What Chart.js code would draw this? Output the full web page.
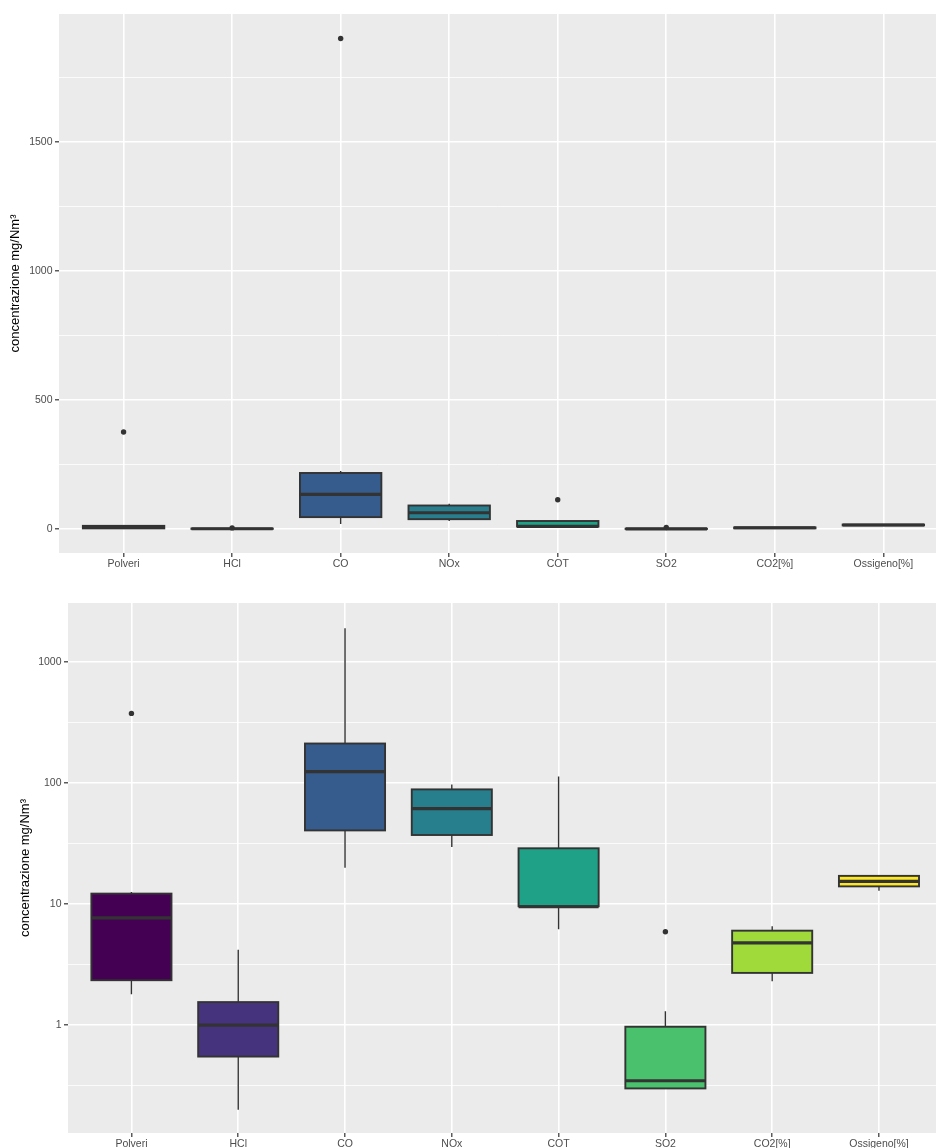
<!DOCTYPE html>
<html>
<head>
<meta charset="utf-8">
<script src="https://cdn.jsdelivr.net/npm/chart.js@4.4.1/dist/chart.umd.min.js"></script>
<style>
  html, body { margin: 0; padding: 0; background: #ffffff; }
  canvas { display: block; }
</style>
</head>
<body>
<canvas id="linearChart" width="936" height="580"></canvas>
<canvas id="logChart" width="936" height="568"></canvas>
<script>
const categories = ['Polveri', 'HCl', 'CO', 'NOx', 'COT', 'SO2', 'CO2[%]', 'Ossigeno[%]'];
const boxColors = ['#440154', '#46337E', '#365C8D', '#277F8E', '#1FA187', '#4AC16D', '#9FDA3A', '#FDE725'];

// Box statistics, linear axis
const linLow = [1.8, 0.2, 19, 31, 6.2, 0.3, 2.3, 12.9];
const linQ1 = [2.35, 0.55, 46, 38, 9.6, 0.3, 2.7, 14.0];
const linMedian = [7.7, 1.0, 134, 63, 10, 0.35, 4.8, 15.4];
const linQ3 = [12.2, 1.55, 217, 91, 31, 0.97, 6.0, 17.1];
const linHigh = [12.6, 1.6, 225, 98, 32, 1.3, 6.5, 17.1];
const linOutliers = [[376], [4.2], [1900], [], [113], [5.9], [], []];

// Box statistics, log10 axis
const logLow = [1.8, 0.2, 20, 29.6, 6.2, 0.3, 2.3, 12.9];
const logQ1 = [2.35, 0.55, 40.6, 37.2, 9.6, 0.3, 2.7, 14.0];
const logMedian = [7.7, 1.0, 124, 61.4, 9.5, 0.347, 4.78, 15.4];
const logQ3 = [12.2, 1.55, 212, 88.6, 28.9, 0.97, 6.03, 17.1];
const logHigh = [12.6, 4.19, 1900, 97.3, 113, 1.3, 6.56, 17.1];
const logOutliers = [[376], [], [], [], [], [5.9], [], []];

// Axis breaks
const linMajorTicks = [0, 500, 1000, 1500];
const linMinorTicks = [250, 750, 1250, 1750];
const logMajorTicks = [1, 10, 100, 1000];
const logMajorLabels = ['1', '10', '100', '1000'];
const logMinorTicks = [0.316, 3.16, 31.6, 316];

const yTitle = 'concentrazione mg/Nm³';

Chart.defaults.font.family = '"Liberation Sans", Arial, sans-serif';

const PANEL_BG = '#EBEBEB';
const INK = '#333333';
const TICK_TEXT = '#4D4D4D';

// Panel background, whiskers, box outlines and median bars drawn through the chart scales
const boxParts = {
  id: 'boxParts',
  beforeDraw(chart) {
    const a = chart.chartArea;
    const ctx = chart.ctx;
    ctx.save();
    ctx.fillStyle = PANEL_BG;
    ctx.fillRect(a.left, a.top, a.right - a.left, a.bottom - a.top);
    ctx.restore();
  },
  beforeDatasetsDraw(chart, args, opts) {
    const xs = chart.scales.x, ys = chart.scales.y, ctx = chart.ctx;
    ctx.save();
    ctx.strokeStyle = INK;
    ctx.lineWidth = 1.4;
    ctx.beginPath();
    opts.low.forEach((lo, i) => {
      const x = xs.getPixelForValue(i);
      ctx.moveTo(x, ys.getPixelForValue(lo));
      ctx.lineTo(x, ys.getPixelForValue(opts.q1[i]));
      ctx.moveTo(x, ys.getPixelForValue(opts.q3[i]));
      ctx.lineTo(x, ys.getPixelForValue(opts.high[i]));
    });
    ctx.stroke();
    ctx.restore();
  },
  afterDatasetsDraw(chart, args, opts) {
    const ys = chart.scales.y, ctx = chart.ctx;
    const bars = chart.getDatasetMeta(1).data;
    ctx.save();
    ctx.strokeStyle = INK;
    ctx.lineWidth = 1.9;
    ctx.lineJoin = 'miter';
    bars.forEach((b, i) => {
      const yTop = ys.getPixelForValue(opts.q3[i]);
      const yBot = ys.getPixelForValue(opts.q1[i]);
      ctx.strokeRect(b.x - b.width / 2, yTop, b.width, yBot - yTop);
    });
    ctx.lineWidth = 3.2;
    ctx.beginPath();
    opts.median.forEach((m, i) => {
      const b = bars[i];
      const y = ys.getPixelForValue(m);
      ctx.moveTo(b.x - b.width / 2, y);
      ctx.lineTo(b.x + b.width / 2, y);
    });
    ctx.stroke();
    ctx.restore();
  }
};

function makeChart(id, cfg) {
  const outlierPoints = [];
  cfg.outliers.forEach((list, i) => list.forEach(v => outlierPoints.push({ x: i, y: v })));
  const isMajor = v => cfg.major.some(m => Math.abs(m - v) < 1e-9);

  return new Chart(document.getElementById(id), {
    type: 'bar',
    data: {
      datasets: [
        {
          type: 'scatter',
          data: outlierPoints,
          pointRadius: 2.7,
          pointBackgroundColor: INK,
          pointBorderWidth: 0,
          pointBorderColor: INK
        },
        {
          type: 'bar',
          data: categories.map((c, i) => ({ x: i, y: [cfg.q1[i], cfg.q3[i]] })),
          backgroundColor: boxColors,
          borderWidth: 0,
          barPercentage: 0.75,
          categoryPercentage: 1
        }
      ]
    },
    options: {
      responsive: false,
      animation: false,
      devicePixelRatio: 1,
      events: [],
      layout: { autoPadding: false, padding: { top: cfg.padTop, right: 0, bottom: 0, left: 0 } },
      plugins: {
        legend: { display: false },
        tooltip: { enabled: false },
        boxParts: { low: cfg.low, q1: cfg.q1, median: cfg.median, q3: cfg.q3, high: cfg.high }
      },
      scales: {
        x: {
          type: 'linear',
          min: cfg.xMin,
          max: cfg.xMax,
          offset: false,
          afterBuildTicks: s => { s.ticks = categories.map((c, i) => ({ value: i })); },
          afterFit: s => {
            s.height = cfg.xHeight;
            s.paddingLeft = 0;
            s.paddingRight = 0;
          },
          ticks: {
            autoSkip: false,
            maxRotation: 0,
            padding: 1,
            color: TICK_TEXT,
            font: { size: 10.5 },
            callback: v => categories[v]
          },
          grid: {
            offset: false,
            color: '#ffffff',
            lineWidth: 1.6,
            tickLength: 4,
            tickColor: INK,
            tickWidth: 1.2
          },
          border: { display: false }
        },
        y: {
          type: cfg.yType,
          min: cfg.yMin,
          max: cfg.yMax,
          afterBuildTicks: s => {
            s.ticks = cfg.major.concat(cfg.minor).sort((a, b) => a - b).map(v => ({ value: v }));
          },
          afterFit: s => {
            s.width = cfg.yWidth;
            s.paddingTop = 0;
            s.paddingBottom = 0;
          },
          ticks: {
            autoSkip: false,
            padding: 2.5,
            color: TICK_TEXT,
            font: { size: 10.5 },
            callback: v => {
              const k = cfg.major.findIndex(m => Math.abs(m - v) < 1e-9);
              return k < 0 ? '' : cfg.majorLabels[k];
            }
          },
          grid: {
            color: '#ffffff',
            lineWidth: c => (c.tick && isMajor(c.tick.value)) ? 1.6 : 0.8,
            tickLength: 4,
            tickColor: c => (c.tick && isMajor(c.tick.value)) ? INK : 'rgba(0,0,0,0)',
            tickWidth: 1.2
          },
          border: { display: false },
          title: {
            display: true,
            text: yTitle,
            color: '#000000',
            font: { size: 13 },
            padding: { top: cfg.titlePad, bottom: 0 }
          }
        }
      }
    },
    plugins: [boxParts]
  });
}

makeChart('linearChart', {
  low: linLow, q1: linQ1, median: linMedian, q3: linQ3, high: linHigh, outliers: linOutliers,
  yType: 'linear', yMin: -93, yMax: 1995,
  major: linMajorTicks, majorLabels: linMajorTicks.map(String), minor: linMinorTicks,
  xMin: -0.595, xMax: 7.485,
  padTop: 14, xHeight: 27, yWidth: 59, titlePad: 7.2
});

makeChart('logChart', {
  low: logLow, q1: logQ1, median: logMedian, q3: logQ3, high: logHigh, outliers: logOutliers,
  yType: 'logarithmic', yMin: 0.1285, yMax: 3070,
  major: logMajorTicks, majorLabels: logMajorLabels, minor: logMinorTicks,
  xMin: -0.594, xMax: 7.534,
  padTop: 23, xHeight: 15, yWidth: 68, titlePad: 17.2
});
</script>
</body>
</html>
